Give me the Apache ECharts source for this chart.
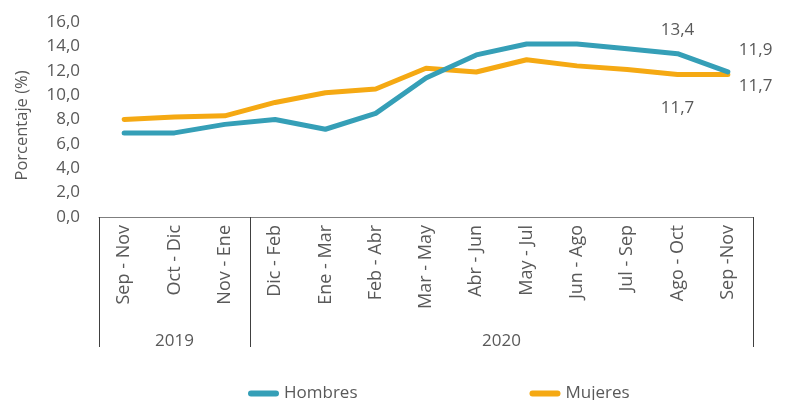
<!DOCTYPE html>
<html>
<head>
<meta charset="utf-8">
<script src="https://cdn.jsdelivr.net/npm/echarts@6/dist/echarts.min.js"></script>
<style>
html, body { margin: 0; padding: 0; background: #fff; }
#main { width: 786px; height: 400px; }
</style>
</head>
<body>
<div id="main"></div>
<script>
// periodos trimestrales móviles
var categorias = ['Sep - Nov', 'Oct - Dic', 'Nov - Ene', 'Dic - Feb', 'Ene - Mar', 'Feb - Abr', 'Mar - May',
    'Abr - Jun', 'May - Jul', 'Jun - Ago', 'Jul - Sep', 'Ago - Oct', 'Sep -Nov'];
var anios = ['2019', '2020'];
var limitesAnio = [0, 3, 13];   // en número de categorías
var hombres = [6.9, 6.9, 7.6, 8.0, 7.2, 8.5, 11.4, 13.3, 14.2, 14.2, 13.8, 13.4, 11.9];
var mujeres = [8.0, 8.2, 8.3, 9.4, 10.2, 10.5, 12.2, 11.9, 12.9, 12.4, 12.1, 11.7, 11.7];

var gris = '#595959';
var fuente = 'Open Sans';

function coma(v) {
    return Number(v).toFixed(1).replace('.', ',');
}

// etiquetas de datos solo en los dos últimos puntos
function conEtiquetas(valores, estilos) {
    return valores.map(function (v, i) {
        if (estilos[i]) {
            return { value: v, label: Object.assign({ show: true }, estilos[i]) };
        }
        return v;
    });
}

var myChart = echarts.init(document.getElementById('main'));

var option = {
    animation: false,
    textStyle: { fontFamily: fuente, color: gris },
    grid: { left: 99, right: 33, top: 22, bottom: 183 },
    legend: {
        data: ['Hombres', 'Mujeres'],
        left: 243,
        top: 380,
        itemGap: 172,
        itemWidth: 31,
        itemHeight: 7,
        icon: 'path://M3,0 H28 A3,3 0 0 1 28,6 H3 A3,3 0 0 1 3,0 Z',
        textStyle: { fontSize: 17, color: gris, fontFamily: fuente }
    },
    xAxis: [
        {
            type: 'category',
            data: categorias,
            boundaryGap: true,
            axisLine: { show: true, lineStyle: { color: '#7f7f7f', width: 1 } },
            axisTick: { show: false },
            axisLabel: { rotate: 90, margin: 8, fontSize: 18, color: gris, fontFamily: fuente, interval: 0 }
        },
        {
            type: 'value',
            position: 'bottom',
            min: 0,
            max: 13,
            axisLine: { show: false },
            splitLine: { show: false },
            axisTick: {
                show: true,
                customValues: limitesAnio,
                length: 130,
                lineStyle: { color: '#404040', width: 1 }
            },
            axisLabel: {
                show: true,
                customValues: [1.5, 8],
                margin: 116,
                fontSize: 17,
                color: gris,
                fontFamily: fuente,
                formatter: function (v) {
                    return v < limitesAnio[1] ? anios[0] : anios[1];
                }
            }
        }
    ],
    yAxis: {
        type: 'value',
        min: 0,
        max: 16,
        interval: 2,
        name: 'Porcentaje (%)',
        nameLocation: 'middle',
        nameGap: 68,
        nameTextStyle: { fontSize: 16.5, color: gris, fontFamily: fuente, padding: [0, 0, 0, -12] },
        axisLine: { show: false },
        axisTick: { show: false },
        splitLine: { show: false },
        axisLabel: { margin: 19, fontSize: 17, color: gris, fontFamily: fuente, formatter: coma }
    },
    series: [
        {
            name: 'Hombres',
            type: 'line',
            z: 3,
            symbol: 'circle',
            symbolSize: 0,
            showSymbol: true,
            color: '#359FB7',
            lineStyle: { width: 5, cap: 'round', join: 'round' },
            label: { fontSize: 17, color: gris, fontFamily: fuente, formatter: function (p) { return coma(p.value); } },
            data: conEtiquetas(hombres, {
                11: { position: 'top', distance: 15 },
                12: { position: 'right', distance: 11, offset: [0, -22] }
            })
        },
        {
            name: 'Mujeres',
            type: 'line',
            z: 2,
            symbol: 'circle',
            symbolSize: 0,
            showSymbol: true,
            color: '#F5A913',
            lineStyle: { width: 5, cap: 'round', join: 'round' },
            label: { fontSize: 17, color: gris, fontFamily: fuente, formatter: function (p) { return coma(p.value); } },
            data: conEtiquetas(mujeres, {
                11: { position: 'bottom', distance: 25 },
                12: { position: 'right', distance: 11, offset: [0, 12] }
            })
        }
    ]
};

myChart.setOption(option);
</script>
</body>
</html>
